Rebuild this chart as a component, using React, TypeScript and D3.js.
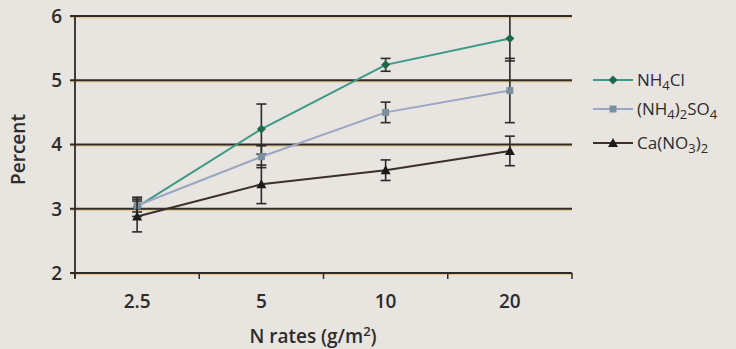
import React from 'react';
import * as d3 from 'd3';

const rates = ['2.5', '5', '10', '20'];
const nh4cl = [3.03, 4.24, 5.24, 5.65];
const nh4clErr = [0.15, 0.39, 0.1, 0.35];
const nh4so4 = [3.05, 3.81, 4.5, 4.84];
const nh4so4Err = [0.1, 0.17, 0.16, 0.5];
const cano3 = [2.88, 3.38, 3.6, 3.9];
const cano3Err = [0.24, 0.3, 0.16, 0.23];
const yTicks = [2, 3, 4, 5, 6];

const W = 736;
const H = 349;
const font = '"Open Sans", "DejaVu Sans", sans-serif';
const ink = '#2e2b2a';

type Series = {
  key: string;
  values: number[];
  err: number[];
  line: string;
  mark: string;
  shape: 'diamond' | 'square' | 'triangle';
};

const series: Series[] = [
  { key: 'nh4cl', values: nh4cl, err: nh4clErr, line: '#3c9a86', mark: '#1f6a4c', shape: 'diamond' },
  { key: 'nh4so4', values: nh4so4, err: nh4so4Err, line: '#9aa6c6', mark: '#7c8fa0', shape: 'square' },
  { key: 'cano3', values: cano3, err: cano3Err, line: '#3a2f2c', mark: '#1d1a1a', shape: 'triangle' },
];

function Marker({ shape, x, y, fill }: { shape: string; x: number; y: number; fill: string }) {
  if (shape === 'diamond') {
    return <path d={`M${x},${y - 4.5}L${x + 4.5},${y}L${x},${y + 4.5}L${x - 4.5},${y}Z`} fill={fill} />;
  }
  if (shape === 'square') {
    return <rect x={x - 3.5} y={y - 3.5} width={7} height={7} fill={fill} />;
  }
  return <path d={`M${x},${y - 5}L${x + 5},${y + 4}L${x - 5},${y + 4}Z`} fill={fill} />;
}

// legend labels with chemical subscripts
function Label({ k, x, y }: { k: string; x: number; y: number }) {
  const fs = 17;
  const ss = 13;
  if (k === 'nh4cl') {
    return (
      <text x={x} y={y} fontFamily={font} fontSize={fs} fill={ink}>
        NH<tspan dy={4} fontSize={ss}>4</tspan><tspan dy={-4}>Cl</tspan>
      </text>
    );
  }
  if (k === 'nh4so4') {
    return (
      <text x={x} y={y} fontFamily={font} fontSize={fs} fill={ink}>
        (NH<tspan dy={4} fontSize={ss}>4</tspan><tspan dy={-4}>)</tspan>
        <tspan dy={4} fontSize={ss}>2</tspan><tspan dy={-4}>SO</tspan>
        <tspan dy={4} fontSize={ss}>4</tspan>
      </text>
    );
  }
  return (
    <text x={x} y={y} fontFamily={font} fontSize={fs} fill={ink}>
      Ca(NO<tspan dy={4} fontSize={ss}>3</tspan><tspan dy={-4}>)</tspan>
      <tspan dy={4} fontSize={ss}>2</tspan>
    </text>
  );
}

export default function App() {
  const x = d3.scaleBand<string>().domain(rates).range([75, 572]);
  const y = d3.scaleLinear().domain([2, 6]).range([273, 16]);
  const cx = (r: string) => (x(r) as number) + x.bandwidth() / 2;
  const line = d3
    .line<number>()
    .x((_, i) => cx(rates[i]))
    .y((d) => y(d));

  const bandEdges = rates.map((r) => x(r) as number).concat([x.range()[1]]);

  return (
    <svg width={W} height={H} style={{ position: 'absolute', left: 0, top: 0 }}>
      <rect width={W} height={H} fill="#e8e4df" />
      {/* gridlines */}
      {yTicks.map((t) => (
        <g key={t}>
          <line x1={70} x2={572} y1={y(t) + 1.6} y2={y(t) + 1.6} stroke="#e3c06a" strokeWidth={1.5} opacity={0.7} />
          <line x1={70} x2={572} y1={y(t)} y2={y(t)} stroke={ink} strokeWidth={1.8} />
          <text x={62} y={y(t)} dy="0.36em" textAnchor="end" fontFamily={font} fontSize={19} fontWeight={600} fill={ink}>
            {t}
          </text>
        </g>
      ))}
      {/* axes */}
      <line x1={75} x2={75} y1={y(6)} y2={y(2) + 5} stroke={ink} strokeWidth={1.8} />
      {bandEdges.map((e, i) => (
        <line key={i} x1={e} x2={e} y1={y(2)} y2={y(2) + 6} stroke={ink} strokeWidth={1.5} />
      ))}
      {rates.map((r) => (
        <text key={r} x={cx(r)} y={308} textAnchor="middle" fontFamily={font} fontSize={19} fontWeight={600} fill={ink}>
          {r}
        </text>
      ))}
      <text x={313} y={343} textAnchor="middle" fontFamily={font} fontSize={19} fontWeight={600} fill={ink}>
        N rates (g/m<tspan dy={-7} fontSize={13}>2</tspan><tspan dy={7}>)</tspan>
      </text>
      <text
        transform={`translate(25,${y(4) + 5}) rotate(-90)`}
        textAnchor="middle"
        fontFamily={font}
        fontSize={19}
        fontWeight={600}
        fill={ink}
      >
        Percent
      </text>
      {/* series */}
      {series.map((s) => (
        <g key={s.key}>
          <path d={line(s.values) as string} fill="none" stroke={s.line} strokeWidth={2} />
          {s.values.map((v, i) => {
            const px = cx(rates[i]);
            const lo = y(v - s.err[i]);
            const hi = y(v + s.err[i]);
            return (
              <g key={i} stroke={ink} strokeWidth={1.6}>
                <line x1={px} x2={px} y1={lo} y2={hi} />
                <line x1={px - 5} x2={px + 5} y1={lo} y2={lo} />
                <line x1={px - 5} x2={px + 5} y1={hi} y2={hi} />
              </g>
            );
          })}
          {s.values.map((v, i) => (
            <Marker key={i} shape={s.shape} x={cx(rates[i])} y={y(v)} fill={s.mark} />
          ))}
        </g>
      ))}
      {/* legend */}
      {series.map((s, i) => {
        const ly = [80, 109, 143][i];
        return (
          <g key={s.key}>
            <line x1={593} x2={633} y1={ly} y2={ly} stroke={s.line} strokeWidth={2} />
            <Marker shape={s.shape} x={613} y={ly} fill={s.mark} />
            <Label k={s.key} x={637} y={ly + 6} />
          </g>
        );
      })}
    </svg>
  );
}
